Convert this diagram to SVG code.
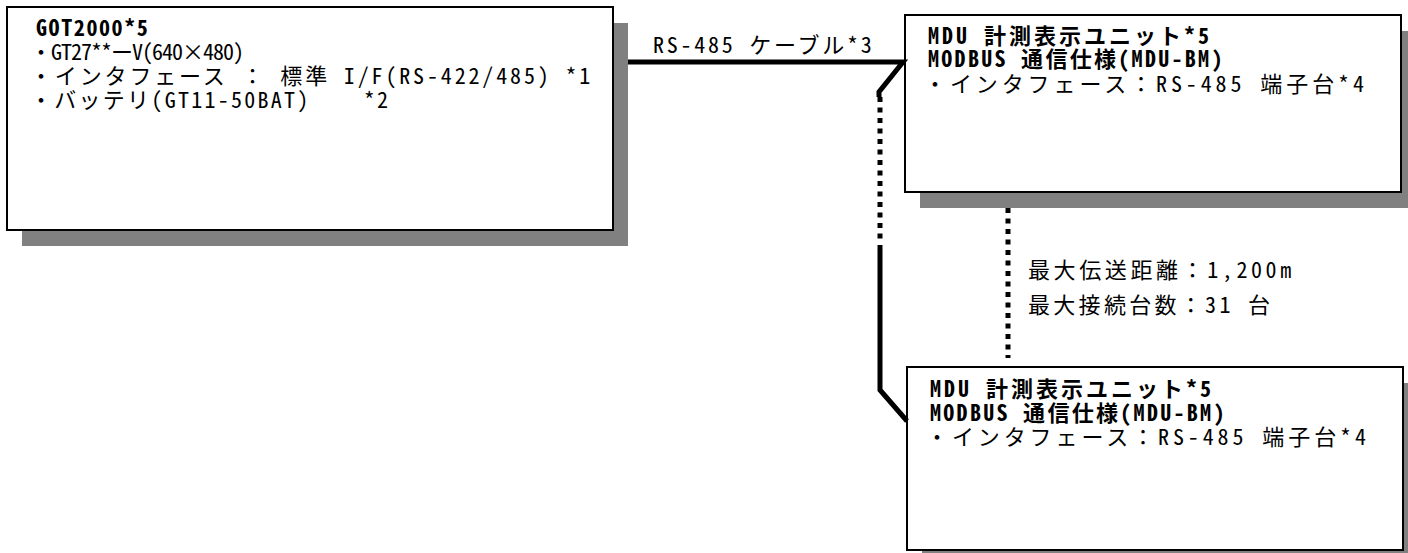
<svg xmlns="http://www.w3.org/2000/svg" width="1408" height="553" viewBox="0 0 1408 553">
<style>
.sh{fill:#808080}
.bx{fill:#fff;stroke:#000;stroke-width:2}
text{font-family:"Noto Sans CJK JP","Noto Sans",sans-serif;font-size:22px;fill:#000;white-space:pre}
.h{font-feature-settings:"hwid" 1}
.b{font-weight:bold}
.ln{fill:none;stroke:#000;stroke-width:5}
.dt{fill:none;stroke:#000;stroke-width:5;stroke-dasharray:5 5.5}
</style>
<rect width="1408" height="553" fill="#fff"/>
<g id="got2000">
<rect class="sh" x="22" y="23" width="606" height="223"/>
<rect class="bx" x="7" y="7" width="606" height="223"/>
<text class="b h" x="36" y="36" letter-spacing="1.6">GOT2000*5</text>
<text x="30" y="60" font-size="20" letter-spacing="-1">・<tspan class="h">GT27**</tspan>ー<tspan class="h">V(640</tspan>×<tspan class="h">480)</tspan></text>
<text x="30" y="84" letter-spacing="2.85">・インタフェース<tspan class="h"> </tspan>：<tspan class="h"> </tspan>標準<tspan class="h"> I/F(RS-422/485) *1</tspan></text>
<text x="30" y="108" letter-spacing="2.27">・バッテリ<tspan class="h">(GT11-50BAT)    *2</tspan></text>
</g>
<g id="mdu1">
<rect class="sh" x="920" y="31" width="496" height="177"/>
<rect class="bx" x="905" y="15" width="496" height="177"/>
<text class="b" x="928" y="44" letter-spacing="3"><tspan class="h">MDU </tspan>計測表示ユニット<tspan class="h">*5</tspan></text>
<text class="b" x="928" y="67" letter-spacing="2.3"><tspan class="h">MODBUS </tspan>通信仕様<tspan class="h">(MDU-BM)</tspan></text>
<text x="924" y="92" letter-spacing="3.9">・インタフェース：<tspan class="h">RS-485 </tspan>端子台<tspan class="h">*4</tspan></text>
</g>
<g id="mdu2">
<rect class="sh" x="922" y="383" width="496" height="183"/>
<rect class="bx" x="907" y="367" width="496" height="183"/>
<text class="b" x="930" y="397" letter-spacing="3"><tspan class="h">MDU </tspan>計測表示ユニット<tspan class="h">*5</tspan></text>
<text class="b" x="930" y="421" letter-spacing="2.3"><tspan class="h">MODBUS </tspan>通信仕様<tspan class="h">(MDU-BM)</tspan></text>
<text x="926" y="445" letter-spacing="3.9">・インタフェース：<tspan class="h">RS-485 </tspan>端子台<tspan class="h">*4</tspan></text>
</g>
<g id="connectors">
<path class="ln" d="M628,62 H903 L879,92 V97"/>
<path class="dt" d="M880,97 V243"/>
<path class="ln" d="M880,245 V390 L907,421"/>
<path class="dt" d="M1008,208 V358"/>
<text x="653" y="53" letter-spacing="2.75"><tspan class="h">RS-485 </tspan>ケーブル<tspan class="h">*3</tspan></text>
<text x="1028" y="278" letter-spacing="3.6">最大伝送距離：<tspan class="h">1,200m</tspan></text>
<text x="1028" y="313" letter-spacing="3.3">最大接続台数：<tspan class="h">31 </tspan>台</text>
</g>
</svg>
